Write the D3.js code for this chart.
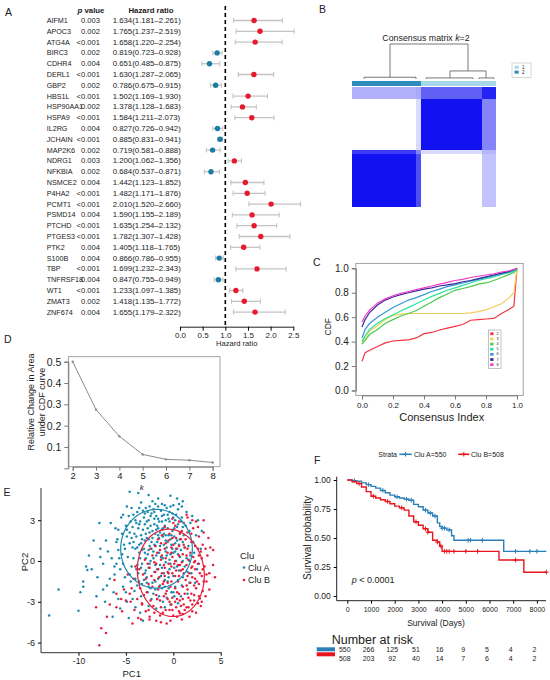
<!DOCTYPE html>
<html><head><meta charset="utf-8">
<script src="https://cdn.jsdelivr.net/npm/d3@7"></script>
<style>body{margin:0;background:#fff} svg{display:block} text{font-family:"Liberation Sans",Arial,sans-serif;fill:#222}</style>
</head><body><svg id="c" width="550" height="680"></svg>
<script>
// ---------------- DATA ----------------
// Panel A: Cox forest
const genes = ["AIFM1","APOC3","ATG4A","BIRC3","CDHR4","DERL1","GBP2","HBS1L","HSP90AA1","HSPA9","IL2RG","JCHAIN","MAP2K6","NDRG1","NFKBIA","NSMCE2","P4HA2","PCMT1","PSMD14","PTCHD","PTGES3","PTK2","S100B","TBP","TNFRSF18","WT1","ZMAT3","ZNF674"];
const pText = ["0.003","0.002","<0.001","0.002","0.004","<0.001","0.002","<0.001","0.002","<0.001","0.004","<0.001","0.002","0.003","0.002","0.004","<0.001","<0.001","0.004","<0.001","<0.001","0.004","0.004","<0.001","0.004","<0.001","0.002","0.004"];
const hr   = [1.634,1.765,1.658,0.819,0.651,1.630,0.786,1.502,1.378,1.584,0.827,0.885,0.719,1.200,0.684,1.442,1.482,2.010,1.590,1.635,1.782,1.405,0.866,1.699,0.847,1.233,1.418,1.655];
const hrLo = [1.181,1.237,1.220,0.723,0.485,1.287,0.675,1.169,1.128,1.211,0.726,0.831,0.581,1.062,0.537,1.123,1.171,1.520,1.155,1.254,1.307,1.118,0.786,1.232,0.755,1.097,1.135,1.179];
const hrHi = [2.261,2.519,2.254,0.928,0.875,2.065,0.915,1.930,1.683,2.073,0.942,0.941,0.888,1.356,0.871,1.852,1.876,2.660,2.189,2.132,2.428,1.765,0.955,2.343,0.949,1.385,1.772,2.322];
const hrLabels = ["1.634(1.181–2.261)","1.765(1.237–2.519)","1.658(1.220–2.254)","0.819(0.723–0.928)","0.651(0.485–0.875)","1.630(1.287–2.065)","0.786(0.675–0.915)","1.502(1.169–1.930)","1.378(1.128–1.683)","1.584(1.211–2.073)","0.827(0.726–0.942)","0.885(0.831–0.941)","0.719(0.581–0.888)","1.200(1.062–1.356)","0.684(0.537–0.871)","1.442(1.123–1.852)","1.482(1.171–1.876)","2.010(1.520–2.660)","1.590(1.155–2.189)","1.635(1.254–2.132)","1.782(1.307–1.428)","1.405(1.118–1.765)","0.866(0.786–0.955)","1.699(1.232–2.343)","0.847(0.755–0.949)","1.233(1.097–1.385)","1.418(1.135–1.772)","1.655(1.179–2.322)"];
const hrTicks = [0,0.5,1,1.5,2,2.5];

// Panel B: consensus matrix (segments of ordered samples)
const segSizes = [64,5,61,14];
const segCluster = [2,2,1,1];
const consensus = [  // row segment x column segment
  [0.97,0.72,0.00,0.25],
  [0.80,0.50,0.15,0.30],
  [0.00,0.15,0.97,0.50],
  [0.32,0.35,0.65,0.90]
];
const dendro = [ // a,b positions in sample units; h = merge height; ha/hb child heights
  {a:38,b:116,h:1.00,ha:0.05,hb:0.23},
  {a:98,b:134,h:0.23,ha:0.03,hb:0.03},
  {a:12,b:64,h:0.05,ha:0.0,hb:0.0},
  {a:74,b:121,h:0.03,ha:0.0,hb:0.0},
  {a:127,b:142,h:0.03,ha:0.0,hb:0.0}
];
const clusterLabels = ["1","2"];

// Panel C: CDF curves
const cdfX = [0,0.02,0.05,0.1,0.15,0.2,0.25,0.3,0.35,0.4,0.45,0.5,0.55,0.6,0.65,0.7,0.75,0.8,0.85,0.9,0.95,0.98,1.0];
const cdfK = [2,3,4,5,6,7,8];
const cdfY = [
  [0.24,0.31,0.33,0.36,0.39,0.405,0.41,0.415,0.43,0.465,0.475,0.495,0.51,0.525,0.54,0.575,0.58,0.585,0.59,0.63,0.665,0.69,1.0],
  [0.38,0.43,0.49,0.53,0.58,0.615,0.625,0.63,0.63,0.63,0.63,0.63,0.63,0.63,0.63,0.635,0.645,0.66,0.685,0.71,0.76,0.80,1.0],
  [0.38,0.41,0.46,0.50,0.55,0.58,0.61,0.63,0.655,0.69,0.725,0.76,0.79,0.82,0.835,0.85,0.87,0.88,0.90,0.925,0.95,0.965,0.99],
  [0.40,0.45,0.50,0.55,0.59,0.62,0.65,0.68,0.71,0.74,0.77,0.795,0.82,0.84,0.86,0.88,0.90,0.915,0.93,0.95,0.965,0.975,0.99],
  [0.43,0.50,0.55,0.60,0.64,0.68,0.71,0.74,0.76,0.785,0.81,0.83,0.85,0.865,0.88,0.895,0.91,0.925,0.94,0.955,0.97,0.985,1.0],
  [0.52,0.58,0.64,0.70,0.74,0.765,0.785,0.80,0.815,0.83,0.84,0.855,0.865,0.875,0.89,0.90,0.915,0.93,0.945,0.96,0.975,0.99,1.0],
  [0.56,0.61,0.66,0.715,0.75,0.775,0.795,0.81,0.825,0.84,0.855,0.87,0.885,0.90,0.91,0.925,0.935,0.945,0.955,0.97,0.98,0.99,1.0]
];
const cdfColors = ["#F2333F","#F0CF5A","#4CC94C","#26E39A","#3497D4","#3A2A9E","#F03CC8"];
const cdfTicks = [0,0.2,0.4,0.6,0.8,1.0];

// Panel D: delta area
const dK = [2,3,4,5,6,7,8];
const dVal = [0.50,0.275,0.15,0.065,0.042,0.038,0.027];
const dYTicks = [0.1,0.2,0.3,0.4,0.5];

// Panel E: PCA scatter (x,y pairs)
const cluA = [-4.6,2.1,-4.2,1.4,-3.9,2.8,-3.6,0.6,-3.4,1.9,-3.1,3.2,-2.9,0.2,-2.7,2.4,-2.5,1.1,-2.3,3.5,-2.1,0.7,-1.9,2.0,-1.7,1.4,-1.5,2.9,-1.3,0.3,-1.1,1.8,-0.9,2.6,-0.7,1.0,-0.5,3.1,-0.3,0.5,-0.1,2.2,0.2,1.3,0.5,2.7,0.8,0.8,1.1,1.9,1.4,0.2,
-4.8,0.3,-4.4,-0.4,-4.0,0.9,-3.7,-0.9,-3.3,-0.2,-3.0,1.5,-2.8,-1.2,-2.6,-0.5,-2.4,0.0,-2.2,-1.6,-2.0,-0.8,-1.8,0.4,-1.6,-1.3,-1.4,-0.3,-1.2,-2.0,-1.0,-0.9,-0.8,-0.1,-0.6,-1.5,-0.4,-0.6,-0.2,-2.3,0.0,-1.1,0.3,0.0,0.6,-0.7,0.9,-1.8,1.2,-0.4,1.6,1.1,1.9,-0.9,2.2,0.6,
-5.2,1.2,-5.0,2.6,-4.7,3.3,-4.3,2.5,-3.8,3.6,-3.5,2.9,-3.2,2.3,-2.9,3.9,-2.6,3.0,-2.4,2.6,-2.1,3.8,-1.8,3.3,-1.6,2.4,-1.3,3.7,-1.0,3.4,-0.7,3.9,-0.4,2.9,-0.1,3.5,0.2,3.0,0.5,3.8,0.9,3.2,1.3,2.6,1.7,2.2,
-3.9,1.8,-3.6,1.2,-3.3,0.8,-3.0,2.7,-2.8,1.7,-2.5,2.1,-2.3,1.4,-2.0,2.7,-1.9,1.1,-1.7,2.6,-1.5,1.7,-1.2,2.3,-1.0,1.2,-0.8,1.9,-0.6,2.4,-0.3,1.6,-0.1,0.9,0.1,1.8,0.4,1.5,0.7,2.1,1.0,1.4,
-4.5,-1.5,-4.1,-2.2,-3.8,-1.8,-3.4,-2.6,-3.1,-1.4,-2.7,-2.3,-2.3,-2.8,-1.9,-2.1,-1.5,-2.6,-1.1,-3.0,-0.7,-2.7,-0.3,-3.2,0.1,-2.6,0.5,-3.1,
-5.6,-0.6,-5.4,0.5,-5.9,1.6,-6.2,-1.0,-6.5,0.2,-5.3,-1.9,-5.8,-2.8,-4.9,-3.0,-4.0,-3.4,-6.1,2.4,-5.5,3.2,-4.4,3.9,-3.4,4.3,-2.2,4.4,-1.2,4.2,0.0,4.1,1.0,4.4,2.0,3.3,2.4,1.9,2.7,-0.2,2.3,-1.6,1.5,-2.4,
-4.1,2.0,-3.7,2.4,-3.3,1.6,-2.9,2.0,-2.6,1.6,-2.2,2.2,-2.0,1.2,-1.6,1.9,-1.4,1.1,-1.1,2.4,-0.8,1.5,-0.5,1.9,-0.2,1.2,0.1,2.4,0.4,0.9,0.7,1.6,-3.5,0.2,-3.1,0.9,-2.7,0.5,-2.3,0.9,-1.9,-0.3,-1.5,0.6,-1.1,0.2,-0.7,0.4,-0.3,-0.2,0.0,0.6,0.4,-0.4,-4.3,1.0,-4.5,2.9,-3.0,3.5,-2.0,3.1,-1.2,2.9,-0.6,3.4,0.3,3.4,1.0,2.5,-3.6,3.9,-2.5,4.0,-1.6,4.0,-0.3,4.0,1.4,3.6,-4.9,1.8,-5.4,2.0,-3.8,-0.3,-2.9,-0.7,-2.1,-2.4,-1.3,-1.1,-0.5,-1.2,0.7,0.3,1.8,0.4,2.5,-0.6,1.0,-1.2,-0.9,-1.9,-1.7,-2.8,-2.6,-1.9,-3.6,-1.5,-4.3,-2.8,0.2,-1.9,0.8,-2.6,1.7,-1.6,2.9,0.9,3.0,2.2,2.6,3.0,
-4.0,3.0,-3.6,2.7,-3.2,3.7,-2.8,2.9,-2.4,3.3,-2.0,3.6,-1.6,3.1,-1.2,3.3,-0.8,3.0,-0.4,3.6,0.0,3.2,0.4,2.5,0.8,2.9,-4.4,1.7,-3.8,1.0,-3.4,1.3,-3.0,0.6,-2.6,0.8,-2.2,1.7,-1.8,2.3,-1.4,2.1,-1.0,2.0,-0.6,1.4,-0.2,1.9,0.2,0.7,0.6,1.2,1.2,1.0,-4.2,0.2,-3.9,-0.6,-3.4,-0.5,-3.0,-0.9,-2.5,-0.2,-2.1,0.2,-1.7,-0.6,-1.2,-0.5,-0.8,0.7,-0.4,0.1,0.1,-0.5,0.5,0.5,1.0,0.0,1.5,-0.8,-4.6,-1.0,-4.0,-1.3,-3.3,-1.7,-2.8,-1.6,-2.4,-2.0,-1.9,-1.5,-1.4,-1.8,-0.9,-1.4,-0.5,-2.0,0.0,-2.3,0.5,-1.4,-5.1,0.9,-5.3,-0.2,-4.9,2.3,-4.6,1.3,-5.7,0.2,-6.0,-0.2,-5.0,-2.3,-4.2,3.4,-2.7,3.6,-1.9,4.2,-0.9,4.1,0.6,4.2,1.8,2.8,2.1,1.4,1.7,0.0,-3.5,-3.8,-2.6,-3.3,-1.8,-3.5,-0.9,-3.4,
-13.1,-4.0,-12.1,-2.1,-10.0,-3.65,-9.5,-1.5,-9.5,-1.9,-9.2,-0.4,-9.07,-0.66,-8.6,-0.6,-7.8,2.8,-8.4,1.5,-7.7,0.9,-7.1,1.5,-7.7,0.3,-8.1,-2.6,-7.4,-2.1,-7.0,-1.8,-6.7,-1.3,-6.4,-4.1,-7.4,-0.2,-6.2,-0.4,-5.8,0.8,-5.8,2.3,-4.9,4.0,-4.6,5.1,-3.7,5.0,-2.6,4.85,-1.6,4.6,-0.3,4.8,0.4,4.6,0.9,4.0,-5.3,3.4,-6.6,2.8,-6.9,0.7,-6.3,-2.3,-5.6,-3.5,-7.2,-3.0,-8.9,0.4,-8.0,-1.2,-9.8,-2.3,-6.0,1.4,-5.1,-1.2,-4.7,-4.2,-3.2,-4.4];
const cluB = [-2.5,-0.5,-2.2,0.4,-2.0,-1.4,-1.8,-0.2,-1.6,-2.1,-1.4,0.8,-1.2,-0.9,-1.0,-2.6,-0.8,0.2,-0.6,-1.6,-0.4,-3.0,-0.2,-0.4,0.0,1.2,0.2,-1.1,0.4,-2.3,0.6,0.4,0.8,-0.7,1.0,-1.9,1.2,1.0,1.4,-0.3,1.6,-2.7,1.8,0.6,2.0,-1.2,2.2,-0.1,2.4,-2.0,2.6,0.9,2.8,-0.9,3.0,0.2,3.2,-1.5,
-2.8,-2.3,-2.6,-1.7,-2.4,-2.9,-2.1,-3.3,-1.9,-0.8,-1.7,-2.8,-1.5,-1.2,-1.3,-3.4,-1.1,-1.7,-0.9,-0.5,-0.7,-2.2,-0.5,-0.9,-0.3,-1.9,-0.1,-2.7,0.1,-0.2,0.3,-3.4,0.5,-1.5,0.7,-2.9,0.9,-0.1,1.1,-3.2,1.3,-1.4,1.5,-2.1,1.7,-0.9,1.9,-2.4,2.1,0.3,2.3,-0.6,2.5,-1.5,2.7,-2.6,2.9,0.7,3.3,-0.4,3.5,-1.0,
-1.6,1.6,-1.2,1.9,-0.8,1.3,-0.4,2.0,-0.1,0.3,0.3,1.7,0.6,1.1,0.9,2.2,1.3,1.6,1.6,0.1,1.9,1.4,2.3,1.1,2.7,1.8,3.1,1.2,0.2,2.6,1.1,2.8,-0.6,0.6,-0.2,1.0,0.5,-0.3,1.0,0.5,
-3.2,-1.0,-3.0,0.1,-3.5,-2.0,-3.8,-2.8,-4.2,-1.3,-4.6,-2.4,-3.3,-3.1,-2.9,-3.7,-2.0,-3.8,-1.4,-4.0,-0.8,-3.6,0.0,-4.0,0.6,-3.7,1.2,-3.6,2.0,-3.2,2.4,-3.8,-1.8,-4.4,-0.3,-4.4,0.9,-4.3,-5.0,-2.9,-4.8,-1.0,
-1.0,-0.3,-0.6,-0.8,-0.2,0.6,0.2,0.0,0.6,-1.1,1.0,-0.6,1.4,0.4,1.8,-1.6,2.2,-2.5,-0.8,-2.4,-0.2,-1.5,0.4,-2.8,1.2,-2.4,2.0,-0.4,2.6,-0.2,3.1,-2.2,3.6,0.4,0.8,1.6,1.5,2.1,2.1,2.4,-1.2,0.4,-1.9,1.1,-2.3,-1.1,-2.7,-0.2,-1.5,-1.9,-0.4,-3.6,0.2,-3.0,0.8,-3.3,1.6,-3.4,2.2,-2.9,2.9,-3.3,-3.6,-0.6,-4.1,-3.6,-3.7,-4.2,-2.5,-4.3,1.7,-4.1,3.8,-2.1,3.9,1.0,0.0,2.8,-0.9,2.5,1.5,3.2,2.4,2.9,
-2.0,-0.1,-1.6,-0.6,-1.3,0.1,-0.9,-1.1,-0.5,-0.2,-0.1,-0.9,0.3,-0.7,0.7,-0.3,1.1,-0.9,1.5,-1.1,1.9,-0.5,2.3,-1.3,2.7,-1.7,-2.2,-1.9,-1.8,-2.5,-1.4,-2.9,-1.0,-1.5,-0.6,-2.8,-0.2,-3.2,0.2,-2.0,0.6,-2.4,1.0,-2.8,1.4,-1.8,1.8,-2.9,2.2,-1.8,2.6,-3.1,3.0,-1.1,3.4,-2.6,-1.7,0.6,-1.3,1.3,-0.9,0.9,-0.5,1.5,-0.1,1.7,0.3,0.9,0.7,2.0,1.1,1.2,1.5,0.9,1.9,2.0,2.3,0.0,2.7,0.4,3.1,-0.6,3.4,0.9,-2.4,0.9,-2.9,-1.3,-3.1,-2.5,-2.6,-3.6,-1.1,-3.8,-0.1,-3.6,1.0,-3.9,2.0,-3.7,3.0,-3.0,0.4,-4.1,-1.3,-4.5,-0.1,3.1,0.6,2.9,2.0,3.0,3.2,2.1,3.8,-0.9,-4.0,-0.4,-4.5,-3.0,-5.5,-2.8,
-7.8,-6.2,-7.6,-4.95,-7.1,-5.3,-8.15,-3.4,-7.0,-4.1,-6.7,-3.2,-6.0,-3.4,-5.4,-3.7,-4.3,-4.6,-3.4,-4.3,-3.3,-3.2,-2.5,-4.1,-0.7,-4.6,0.7,-3.85,1.4,-3.4,3.2,3.0,2.6,2.5,3.7,1.7,4.2,0.8,4.2,-0.3,3.5,-1.5,2.8,-2.75,1.4,3.4,-6.0,-2.4,-5.2,-2.1,-4.4,-2.0,-6.2,-1.4,4.4,-1.2];
const ellipses = [ // data-unit ellipses: centre, semi-axes, rotation (deg, data space)
  {cx:-1.77, cy:0.90, a:3.78, b:2.90, ang:0},
  {cx:-0.26, cy:-0.87, a:3.17, b:3.57, ang:72}
];
const eXTicks = [-10,-5,0,5];
const eYTicks = [3,0,-3,-6];
const cluNames = ["Clu A","Clu B"];

// Panel F: Kaplan-Meier
const kmAT = [0,200,400,600,800,1000,1200,1400,1600,1800,2000,2200,2400,2600,2800,3000,3200,3400,3600,3800,3900,4000,4200,4400,4500,6600];
const kmAS = [1.0,0.995,0.99,0.975,0.96,0.945,0.93,0.91,0.89,0.87,0.855,0.845,0.835,0.825,0.79,0.77,0.74,0.715,0.69,0.63,0.60,0.585,0.57,0.52,0.48,0.385];
const kmBT = [0,200,400,600,800,1000,1200,1400,1600,1800,2000,2200,2400,2600,2800,3000,3200,3400,3600,3800,3900,4000,6400,7450];
const kmBS = [1.0,0.985,0.97,0.94,0.90,0.86,0.845,0.83,0.815,0.795,0.775,0.76,0.74,0.69,0.64,0.61,0.58,0.55,0.48,0.465,0.43,0.385,0.31,0.205];
const kmEnd = 8400;
const censA = [300,900,1500,2100,2500,2700,3300,3500,3700,4000,4100,4300,5100,5200,5700,7100,7700,8000];
const censB = [500,1100,1700,2300,2900,3300,3400,3800,3950,4100,4200,4300,4500,5000,5500,7100,8400];
const kmTicks = [0,1000,2000,3000,4000,5000,6000,7000,8000];
const kmYTicks = [0,0.25,0.5,0.75,1.0];
const riskA = [550,266,125,51,16,9,5,4,2];
const riskB = [508,203,92,40,14,7,6,4,2];
const strata = ["Clu A=550","Clu B=508"];

// ---------------- DRAW ----------------
const svg = d3.select("#c");
const NARROW = '"Liberation Sans Narrow","Arial Narrow","Liberation Sans",sans-serif';
const BLUE = "#1B7CA6", RED = "#E8192C";

function txt(g, s, x, y, size, anchor){
  return g.append("text").attr("x",x).attr("y",y).attr("font-size",size)
    .attr("text-anchor",anchor||"start").attr("dominant-baseline","central").text(s);
}
[["A",5,12],["B",319,9],["C",313,262],["D",4,339],["E",3.5,492],["F",314,460]].forEach(d=>txt(svg,d[0],d[1],d[2],10.5));

// ---- Panel A
{
  const g = svg.append("g");
  const yA = d3.scaleBand().domain(genes).range([15.1,317.5]);
  const cy = d => yA(d)+yA.bandwidth()/2;
  const xF = d3.scaleLinear().domain([0,2.5]).range([180,293.3]);
  const h1 = txt(g,"",91,10,7.8,"middle").attr("font-family",NARROW).attr("font-weight","bold");
  h1.append("tspan").attr("font-style","italic").text("p"); h1.append("tspan").text(" value");
  txt(g,"Hazard ratio",173.5,10,7.8,"end").attr("font-family",NARROW).attr("font-weight","bold");
  genes.forEach((gname,i)=>{
    txt(g,gname,46.7,cy(gname),7.2).attr("font-family",NARROW);
    txt(g,pText[i],100,cy(gname),7.6,"end").attr("font-family",NARROW);
    txt(g,hrLabels[i],112.7,cy(gname),7.8).attr("font-family",NARROW);
  });
  g.append("line").attr("x1",xF(1)).attr("x2",xF(1)).attr("y1",6).attr("y2",326.7)
    .attr("stroke","#000").attr("stroke-width",1.6).attr("stroke-dasharray","4,3");
  const rows = g.selectAll("g.row").data(genes).join("g");
  rows.append("line").attr("x1",(d,i)=>xF(hrLo[i])).attr("x2",(d,i)=>xF(hrHi[i]))
    .attr("y1",cy).attr("y2",cy).attr("stroke","#c4c4c4").attr("stroke-width",1.3);
  [hrLo,hrHi].forEach(arr=>rows.append("line").attr("x1",(d,i)=>xF(arr[i])).attr("x2",(d,i)=>xF(arr[i]))
    .attr("y1",d=>cy(d)-2.5).attr("y2",d=>cy(d)+2.5).attr("stroke","#c4c4c4").attr("stroke-width",1.1));
  rows.append("circle").attr("cx",(d,i)=>xF(hr[i])).attr("cy",cy).attr("r",2.7)
    .attr("fill",(d,i)=>hr[i]>1?RED:BLUE);
  const ax = g.append("g").attr("transform","translate(0,326.7)")
    .call(d3.axisBottom(xF).tickValues(hrTicks).tickFormat(d3.format(".1f")).tickSize(4).tickSizeOuter(0));
  ax.select(".domain").attr("stroke","#222");
  ax.selectAll("text").attr("font-size",8).attr("fill","#333").attr("dy","0.5em");
  txt(g,"Hazard ratio",236.7,343.3,7.6,"middle");
}

// ---- Panel B
{
  const g = svg.append("g");
  const total = d3.sum(segSizes);
  const starts = [0, ...d3.cumsum(segSizes)];
  const xH = d3.scaleLinear().domain([0,total]).range([352,496]);
  const yH = d3.scaleLinear().domain([0,total]).range([207,87]);
  const col = d3.scaleLinear().domain([0,1]).range(["#ffffff","#0a0af2"]).interpolate(d3.interpolateRgb);
  const cells = [];
  segSizes.forEach((rs,r)=>segSizes.forEach((cs,c)=>cells.push({r,c,v:consensus[r][c]})));
  g.selectAll("rect.cell").data(cells).join("rect")
    .attr("x",d=>xH(starts[d.c])).attr("width",d=>xH(starts[d.c+1])-xH(starts[d.c]))
    .attr("y",d=>yH(starts[d.r+1])).attr("height",d=>yH(starts[d.r])-yH(starts[d.r+1]))
    .attr("fill",d=>col(d.v)).attr("shape-rendering","crispEdges");
  const clCol = {1:"#A9D7EA",2:"#2C8DBA"};
  g.selectAll("rect.cb").data(segSizes).join("rect")
    .attr("x",(d,i)=>xH(starts[i])).attr("width",(d,i)=>xH(starts[i+1])-xH(starts[i]))
    .attr("y",80.7).attr("height",5).attr("fill",(d,i)=>clCol[segCluster[i]]).attr("shape-rendering","crispEdges");
  const hD = d3.scaleLinear().domain([0,1]).range([79,44]);
  dendro.forEach(d=>{
    g.append("path").attr("d",`M${xH(d.a)},${hD(d.ha)}V${hD(d.h)}H${xH(d.b)}V${hD(d.hb)}`)
      .attr("fill","none").attr("stroke","#555").attr("stroke-width",0.8);
  });
  const t = txt(g,"Consensus matrix ",426,38,8.8,"middle").attr("fill","#333");
  t.append("tspan").attr("font-style","italic").text("k"); t.append("tspan").text("=2");
  g.append("rect").attr("x",512).attr("y",63).attr("width",19).attr("height",14.5)
    .attr("fill","#fff").attr("stroke","#bbb").attr("stroke-width",0.6);
  clusterLabels.forEach((l,i)=>{
    g.append("rect").attr("x",514.5).attr("y",65.8+i*4.8).attr("width",4.2).attr("height",3).attr("fill",clCol[+l]);
    txt(g,l,522,67.3+i*4.8,4.5).attr("fill","#444");
  });
}

// ---- Panel C
{
  const g = svg.append("g");
  const x = d3.scaleLinear().domain([0,1]).range([362,517]);
  const y = d3.scaleLinear().domain([0,1]).range([390.5,268.3]);
  g.append("rect").attr("x",x(-0.04)).attr("y",y(1.04)).attr("width",x(1.04)-x(-0.04)).attr("height",y(-0.04)-y(1.04))
    .attr("fill","none").attr("stroke","#999").attr("stroke-width",0.9);
  const line = d3.line().x((d,i)=>x(cdfX[i])).y(d=>y(d));
  cdfY.forEach((ys,k)=>g.append("path").attr("d",line(ys)).attr("fill","none")
    .attr("stroke",cdfColors[k]).attr("stroke-width",1.2));
  const ay = g.append("g").attr("transform",`translate(${x(-0.04)},0)`)
    .call(d3.axisLeft(y).tickValues(cdfTicks).tickFormat(d3.format(".1f")).tickSize(4));
  ay.select(".domain").attr("stroke","#777"); ay.selectAll("line").attr("stroke","#777");
  ay.selectAll("text").attr("font-size",10).attr("fill","#333");
  const axb = g.append("g").attr("transform",`translate(0,${y(-0.04)})`)
    .call(d3.axisBottom(x).tickValues(cdfTicks).tickFormat(d3.format(".1f")).tickSize(4));
  axb.select(".domain").attr("stroke","#777"); axb.selectAll("line").attr("stroke","#777");
  axb.selectAll("text").attr("font-size",8).attr("fill","#333");
  txt(g,"Consensus Index",441.7,416.7,11,"middle");
  txt(g,"CDF",0,0,8.5,"middle").attr("transform","translate(328.3,326.7) rotate(-90)");
  g.append("rect").attr("x",488.3).attr("y",330).attr("width",12.7).attr("height",38.3)
    .attr("fill","#fff").attr("stroke","#999").attr("stroke-width",0.6);
  cdfK.forEach((k,i)=>{
    g.append("rect").attr("x",490.2).attr("y",332.4+i*5.15).attr("width",3.3).attr("height",2.7).attr("fill",cdfColors[i]);
    txt(g,String(k),496.5,333.8+i*5.15,3.8).attr("fill","#333");
  });
}

// ---- Panel D
{
  const g = svg.append("g");
  const x = d3.scaleLinear().domain([2,8]).range([72.7,212.7]);
  const y = d3.scaleLinear().domain([0,0.5]).range([468.3,361.7]);
  g.append("rect").attr("x",68.3).attr("y",356.7).attr("width",220-68.3).attr("height",466.7-356.7)
    .attr("fill","none").attr("stroke","#999").attr("stroke-width",0.9);
  g.append("path").attr("d",d3.line().x((d,i)=>x(dK[i])).y(d=>y(d))(dVal))
    .attr("fill","none").attr("stroke","#8c8c8c").attr("stroke-width",1);
  g.selectAll("circle").data(dVal).join("circle").attr("cx",(d,i)=>x(dK[i])).attr("cy",d=>y(d))
    .attr("r",1.2).attr("fill","#8c8c8c");
  const ay = g.append("g").attr("transform","translate(68.3,0)")
    .call(d3.axisLeft(y).tickValues(dYTicks).tickFormat(d3.format(".1f")).tickSize(4));
  ay.select(".domain").attr("stroke","#777"); ay.selectAll("line").attr("stroke","#777");
  ay.selectAll("text").attr("font-size",10.5).attr("fill","#333");
  const ax = g.append("g").attr("transform","translate(0,466.7)")
    .call(d3.axisBottom(x).tickValues(dK).tickFormat(d3.format("d")).tickSize(4));
  ax.select(".domain").attr("stroke","#777"); ax.selectAll("line").attr("stroke","#777");
  ax.selectAll("text").attr("font-size",9.5).attr("fill","#333").attr("dy","0.6em");
  txt(g,"k",141.7,487,8,"middle").attr("font-style","italic");
  txt(g,"Relative Change in Area",0,0,9,"middle").attr("transform","translate(31,402) rotate(-90)").attr("fill","#444");
  txt(g,"under CDF curve",0,0,9,"middle").attr("transform","translate(41.5,402) rotate(-90)").attr("fill","#444");
}

// ---- Panel E
{
  const g = svg.append("g");
  const x = d3.scaleLinear().domain([0,5]).range([173.3,220.7]);
  const y = d3.scaleLinear().domain([0,3]).range([561,520.2]);
  const ptsA = d3.range(0,cluA.length,2).map(i=>[cluA[i],cluA[i+1]]);
  const ptsB = d3.range(0,cluB.length,2).map(i=>[cluB[i],cluB[i+1]]);
  const cols = ["#1C8AAE","#E81E3C"];
  [ptsA,ptsB].forEach((pts,k)=>g.append("g").selectAll("circle").data(pts).join("circle")
    .attr("cx",d=>x(d[0])).attr("cy",d=>y(d[1])).attr("r",1.25).attr("fill",cols[k]));
  ellipses.forEach((e,k)=>{
    const th = e.ang*Math.PI/180;
    const pts = d3.range(0,361,4).map(t=>{const u=t*Math.PI/180;
      const dx=e.a*Math.cos(u), dy=e.b*Math.sin(u);
      return [x(e.cx+dx*Math.cos(th)-dy*Math.sin(th)), y(e.cy+dx*Math.sin(th)+dy*Math.cos(th))];});
    g.append("path").attr("d",d3.line()(pts)+"Z").attr("fill","none").attr("stroke",cols[k]).attr("stroke-width",1.2);
  });
  const fmtE = d => String(d);
  const ax = g.append("g").attr("transform","translate(0,652.7)")
    .call(d3.axisBottom(x).tickValues(eXTicks).tickFormat(fmtE).tickSize(3).tickSizeOuter(0));
  ax.select(".domain").attr("d","M41,0H221.7").attr("stroke","#333");
  ax.selectAll("text").attr("font-size",8.5).attr("fill","#4d4d4d").attr("dy","0.6em");
  const ay = g.append("g").attr("transform","translate(41,0)")
    .call(d3.axisLeft(y).tickValues(eYTicks).tickFormat(fmtE).tickSize(3).tickSizeOuter(0));
  ay.select(".domain").attr("d","M0,488H0V652.7").attr("stroke","#333");
  ay.selectAll("text").attr("font-size",9).attr("fill","#4d4d4d");
  txt(g,"PC1",131.7,673.5,9.5,"middle");
  txt(g,"PC2",0,0,9.5,"middle").attr("transform","translate(24,562) rotate(-90)");
  txt(g,"Clu",240,555,9.5);
  cluNames.forEach((n,k)=>{
    g.append("circle").attr("cx",244).attr("cy",567.5+k*12.5).attr("r",1.3).attr("fill",cols[k]);
    txt(g,n,248,567.5+k*12.5,9);
  });
}

// ---- Panel F
{
  const g = svg.append("g");
  const x = d3.scaleLinear().domain([0,8000]).range([347.3,536.9]);
  const y = d3.scaleLinear().domain([0,1]).range([596,480]);
  const cols = ["#2A7FB8","#E8141E"];
  const series = [[kmAT,kmAS,censA],[kmBT,kmBS,censB]];
  series.forEach(([T,S,C],k)=>{
    const pts = T.map((t,i)=>[t,S[i]]).concat([[kmEnd,S[S.length-1]]]);
    g.append("path").attr("d",d3.line().curve(d3.curveStepAfter).x(d=>x(d[0])).y(d=>y(d[1]))(pts))
      .attr("fill","none").attr("stroke",cols[k]).attr("stroke-width",1.4);
    const sAt = t => S[d3.bisectRight(T,t)-1];
    g.append("g").selectAll("path").data(C).join("path")
      .attr("d",t=>`M${x(t)-2.3},${y(sAt(t))}h4.6M${x(t)},${y(sAt(t))-2.3}v4.6`)
      .attr("stroke",cols[k]).attr("stroke-width",1);
  });
  const ax = g.append("g").attr("transform","translate(0,600.7)")
    .call(d3.axisBottom(x).tickValues(kmTicks).tickFormat(d3.format("d")).tickSize(3).tickSizeOuter(0));
  ax.select(".domain").attr("d","M336.7,0H546").attr("stroke","#222");
  ax.selectAll("text").attr("font-size",7).attr("fill","#333");
  const ay = g.append("g").attr("transform","translate(336.7,0)")
    .call(d3.axisLeft(y).tickValues(kmYTicks).tickFormat(d3.format(".2f")).tickSize(3).tickSizeOuter(0));
  ay.select(".domain").attr("d","M0,476.7V600.7").attr("stroke","#222");
  ay.selectAll("text").attr("font-size",8.5).attr("fill","#333");
  txt(g,"Survival (Days)",436,623.3,8.5,"middle").attr("fill","#333");
  txt(g,"Survival probability",0,0,10,"middle").attr("transform","translate(307.3,538) rotate(-90)").attr("fill","#333");
  const pt = txt(g,"",351.7,580,9);
  pt.append("tspan").attr("font-style","italic").text("p"); pt.append("tspan").text(" < 0.0001");
  txt(g,"Strata",378.3,454.3,7).attr("fill","#333");
  const legX = [[399.3,411.7,414],[458.3,469.3,471]];
  strata.forEach((s,k)=>{
    const [a,b,tx]=legX[k];
    g.append("line").attr("x1",a).attr("x2",b).attr("y1",454.3).attr("y2",454.3).attr("stroke",cols[k]).attr("stroke-width",1.6);
    g.append("path").attr("d",`M${(a+b)/2-2.3},454.3h4.6M${(a+b)/2},452v4.6`).attr("stroke",cols[k]).attr("stroke-width",1);
    txt(g,s,tx,454.3,7).attr("fill","#333");
  });
  txt(g,"Number at risk",331.7,640,12.5).attr("fill","#111");
  g.append("rect").attr("x",316.7).attr("y",647.3).attr("width",18.3).attr("height",4).attr("fill",cols[0]);
  g.append("rect").attr("x",316.7).attr("y",652.3).attr("width",18.3).attr("height",4).attr("fill",cols[1]);
  [riskA,riskB].forEach((r,k)=>g.append("g").selectAll("text").data(r).join("text")
    .attr("x",(d,i)=>x(kmTicks[i])-2.5).attr("y",649.3+k*9).attr("font-size",7).attr("text-anchor","middle")
    .attr("dominant-baseline","central").attr("fill","#444").text(d=>d));
}
</script>
</body></html>
